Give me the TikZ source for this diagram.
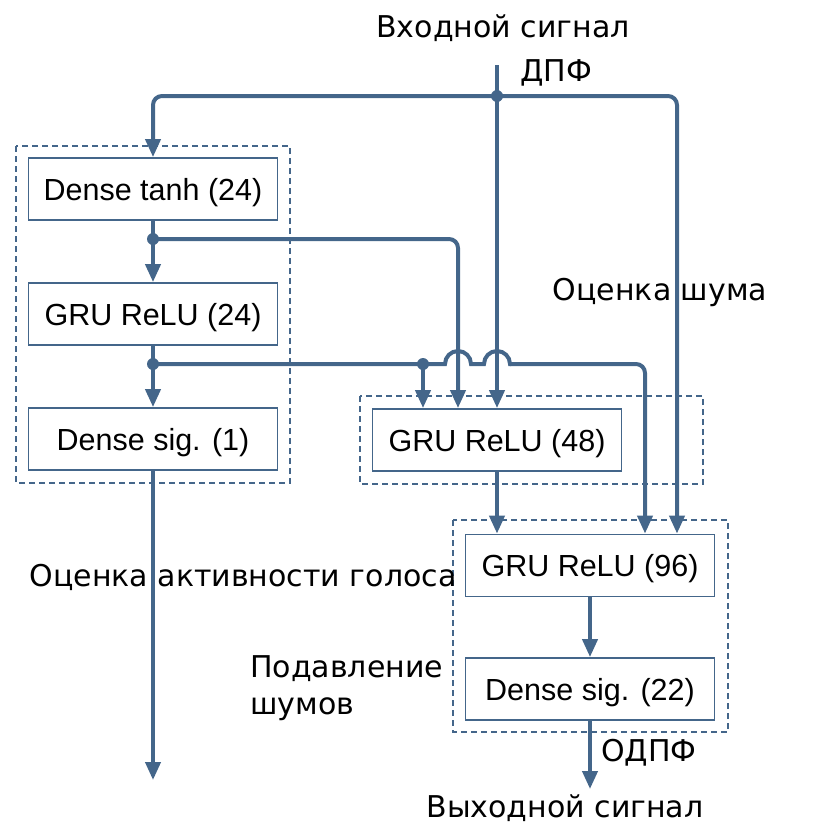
\documentclass[tikz,border=0pt]{standalone}
\usepackage{fontspec}
\setmainfont{DejaVu Sans}
\newfontfamily\boxfont{Liberation Sans}
\usepackage{tikz}
\usetikzlibrary{arrows.meta}
\usetikzlibrary{positioning}
\definecolor{netblue}{RGB}{68,102,138}

\begin{document}
\begin{tikzpicture}[x=1pt,y=-1pt,
        layer/.style={draw=netblue, line width=1.8pt, minimum width=249pt, minimum height=62pt,
            inner sep=0pt, text height=22pt, text depth=0pt, font=\boxfont\fontsize{30.5}{36}\selectfont},
        group/.style={draw=netblue, line width=1.5pt, dash pattern=on 6pt off 4pt},
        flow/.style={draw=netblue, line width=4pt, -{Triangle[length=18pt,width=15pt]}},
        wire/.style={draw=netblue, line width=4pt},
        lbl/.style={font=\fontsize{30}{37}\selectfont, inner sep=0pt}]
            \useasboundingbox (0,0) rectangle (840,839);

            % left group
            \draw[group] (16,146) rectangle (290,483);
            \node[layer] (tanh) at (153,189) {Dense tanh (24)};
            \node[layer] (gru24) at (153,314) {GRU ReLU (24)};
            \node[layer] (vad) at (153,439) {Dense sig. (1)};

            % middle group
            \draw[group] (360,396) rectangle (703,484);
            \node[layer] (gru48) at (497,440) {GRU ReLU (48)};

            % right group
            \draw[group] (453,520) rectangle (728,732);
            \node[layer] (gru96) at (590,565.5) {GRU ReLU (96)};
            \node[layer] (den22) at (590,689) {Dense sig. (22)};

            \coordinate (in) at (497,65);
            \coordinate (split) at (497,96);
            \coordinate (b1) at (153,239);
            \coordinate (b2) at (153,364);
            \coordinate (b3) at (423,364);
            \coordinate (vadout) at (153,780);
            \coordinate (out) at (590,789);

            % input
            \draw[flow] (in) -- (gru48.north);
            \draw[flow, rounded corners=9pt] (split) -| (tanh.north);
            \draw[flow, rounded corners=9pt] (split) -| ([xshift=87]gru96.north);
            \fill[netblue] (split) circle (6pt);

            % left column
            \draw[flow] (tanh) -- (gru24);
            \draw[flow] (gru24) -- (vad);
            \draw[flow, rounded corners=9pt] (b1) -| ([xshift=-39]gru48.north);
            \fill[netblue] (b1) circle (6pt);
            \draw[wire] (b2) -- (445,364) arc[start angle=180, end angle=0, radius=13pt]
                -- (484,364) arc[start angle=180, end angle=0, radius=13pt] -- (511,364);
            \draw[flow, rounded corners=9pt] (510,364) -| ([xshift=55]gru96.north);
            \draw[flow] (b3) -- (b3 |- gru48.north);
            \fill[netblue] (b2) circle (6pt);
            \fill[netblue] (b3) circle (6pt);
            \draw[flow] (vad) -- (vadout);

            % right column
            \draw[flow] (gru48) -- (gru48 |- gru96.north);
            \draw[flow] (gru96) -- (den22);
            \draw[flow] (den22) -- (out);

            % labels
            \node[lbl] (insig) at (503,28) {Входной сигнал};
            \node[lbl] (dft) at (556,73) {ДПФ};
            \node[lbl] (noise) at (660,292) {Оценка шума};
            \node[lbl] (vadlbl) at (243,577) {Оценка активности голоса};
            \node[lbl, anchor=west, align=left] (supp) at (250,688) {Подавление\\шумов};
            \node[lbl] (idft) at (649,753) {ОДПФ};
            \node[lbl] (outsig) at (565,808) {Выходной сигнал};

        \end{tikzpicture}
\end{document}
